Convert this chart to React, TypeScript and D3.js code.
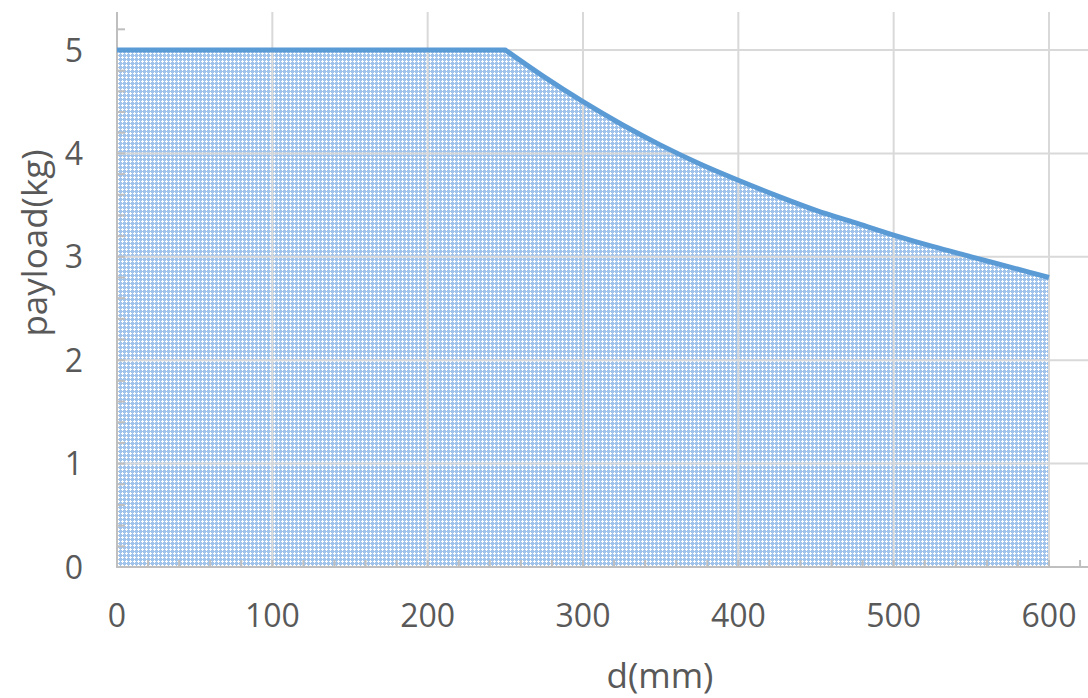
import React from "react";
import * as d3 from "d3";

const distances = [0, 250, 275, 300, 325, 350, 375, 400, 425, 450, 475, 500, 525, 550, 575, 600];
const payloads = [5, 5, 4.74, 4.5, 4.28, 4.08, 3.9, 3.74, 3.59, 3.45, 3.33, 3.21, 3.1, 3.0, 2.9, 2.8];
const xTicks = [0, 100, 200, 300, 400, 500, 600];
const yTicks = [0, 1, 2, 3, 4, 5];
const xTitle = "d(mm)";
const yTitle = "payload(kg)";

const W = 1088;
const H = 698;

type P = { d: number; p: number };

export default function App() {
  const x = d3.scaleLinear().domain([0, 600]).range([117, 1049]);
  const y = d3.scaleLinear().domain([0, 5]).range([567, 50]);
  const data: P[] = distances.map((d, i) => ({ d, p: payloads[i] }));
  const flat = data.slice(0, 2);
  const curved = data.slice(1);
  const curveLine = d3
    .line<P>()
    .x((v) => x(v.d))
    .y((v) => y(v.p))
    .curve(d3.curveMonotoneX);
  const curvePath = curveLine(curved) || "";
  const flatPath = `M${x(flat[0].d)},${y(flat[0].p)}L${x(flat[1].d)},${y(flat[1].p)}`;
  const linePath = flatPath + "L" + curvePath.slice(1);
  const last = curved[curved.length - 1];
  const areaPath =
    linePath + `L${x(last.d)},${y(0)}L${x(flat[0].d)},${y(0)}Z`;
  const xMax = x.invert(W);
  const yTop = 12;
  const xMinor = d3.range(0, 621, 20);
  const yMinor = d3.range(0, 5.21, 0.2);
  const font = "'Open Sans', 'DejaVu Sans', sans-serif";

  return (
    <svg
      width={W}
      height={H}
      style={{ position: "absolute", left: 0, top: 0, background: "#fff" }}
    >
      <defs>
        <pattern id="hatch" patternUnits="userSpaceOnUse" width={4} height={4}>
          <rect x={0} y={0} width={4} height={4} fill="#a0c3eb" />
          <rect x={2} y={0} width={1} height={3} fill="#ffffff" />
          <rect x={1} y={1} width={3} height={1} fill="#ffffff" />
        </pattern>
      </defs>
      <path d={areaPath} fill="url(#hatch)" />
      {xTicks
        .filter((t) => t > 0)
        .map((t) => (
          <line
            key={"gx" + t}
            x1={x(t)}
            x2={x(t)}
            y1={yTop}
            y2={y(0)}
            stroke="#d9d9d9"
            strokeWidth={2}
          />
        ))}
      {yTicks
        .filter((t) => t > 0)
        .map((t) => (
          <line
            key={"gy" + t}
            x1={x(0)}
            x2={x(xMax)}
            y1={y(t)}
            y2={y(t)}
            stroke="#d9d9d9"
            strokeWidth={2}
          />
        ))}
      <line x1={x(0)} x2={x(0)} y1={yTop} y2={y(0) + 1} stroke="#bfbfbf" strokeWidth={2} />
      <line x1={x(0)} x2={W} y1={y(0)} y2={y(0)} stroke="#bfbfbf" strokeWidth={2} />
      {xMinor.map((t) => (
        <line key={"mx" + t} x1={x(t)} x2={x(t)} y1={y(0)} y2={y(0) - 7} stroke="#bfbfbf" strokeWidth={2} />
      ))}
      {yMinor.map((t) => (
        <line key={"my" + t} x1={x(0)} x2={x(0) + 8} y1={y(t)} y2={y(t)} stroke="#bfbfbf" strokeWidth={2} />
      ))}
      <path d={linePath} fill="none" stroke="#5b9bd5" strokeWidth={5} strokeLinejoin="round" />
      {xTicks.map((t) => (
        <text
          key={"tx" + t}
          x={x(t)}
          y={627}
          textAnchor="middle"
          fontFamily={font}
          fontSize={32}
          fill="#595959"
        >
          {t}
        </text>
      ))}
      {yTicks.map((t) => (
        <text
          key={"ty" + t}
          x={83}
          y={y(t)}
          dy="0.36em"
          textAnchor="end"
          fontFamily={font}
          fontSize={32}
          fill="#595959"
        >
          {t}
        </text>
      ))}
      <text x={660} y={688} textAnchor="middle" fontFamily={font} fontSize={35} fill="#595959">
        {xTitle}
      </text>
      <text
        transform={`translate(47, 243) rotate(-90)`}
        textAnchor="middle"
        fontFamily={font}
        fontSize={35}
        fill="#595959"
      >
        {yTitle}
      </text>
    </svg>
  );
}
